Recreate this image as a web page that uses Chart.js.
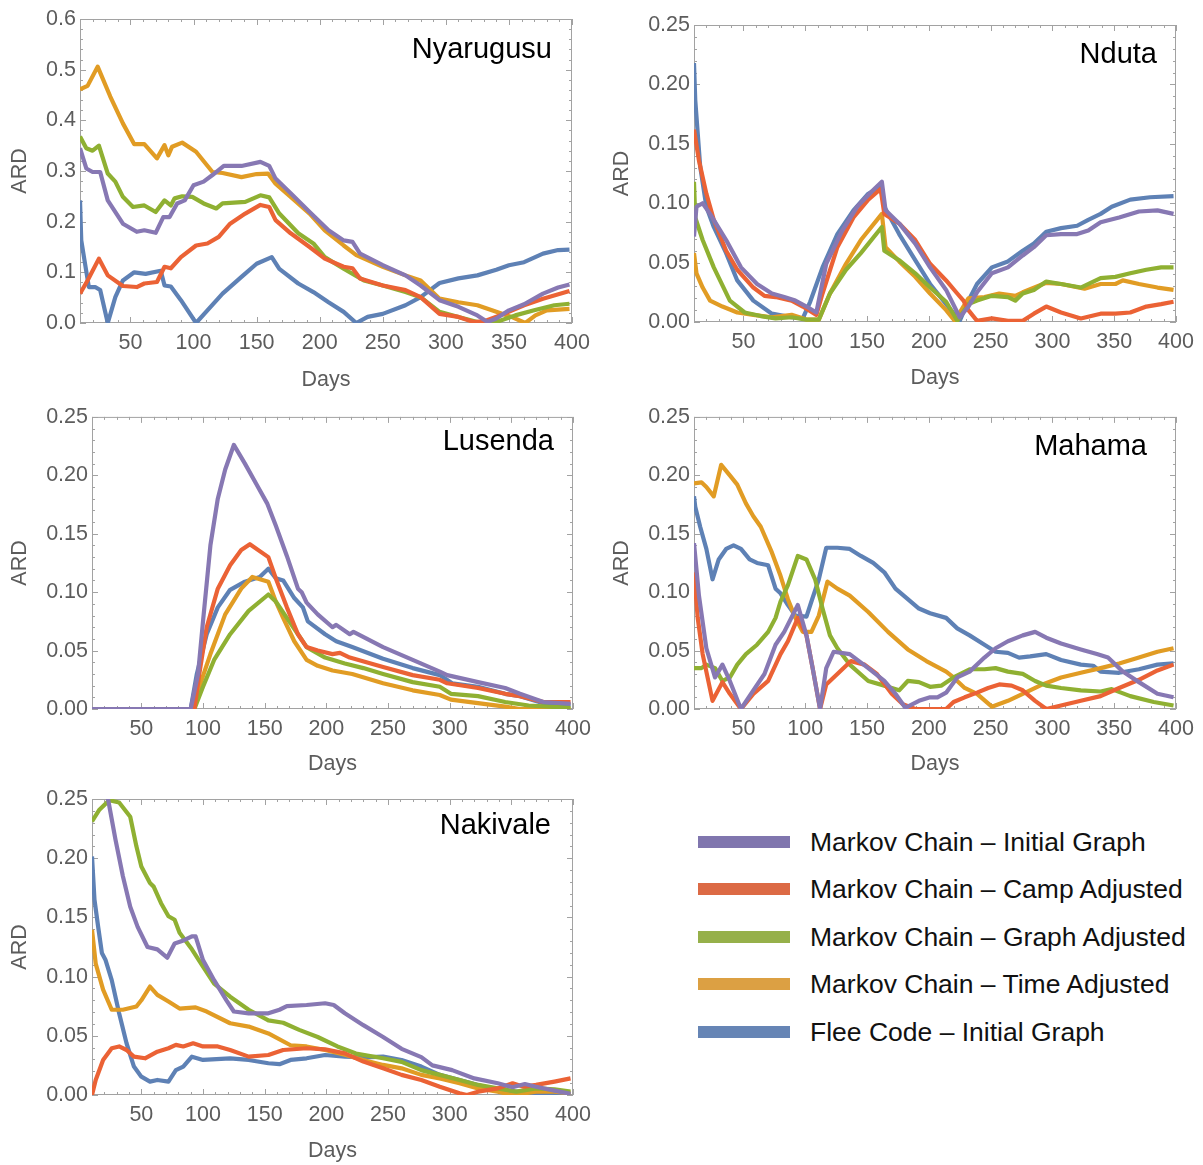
<!DOCTYPE html>
<html>
<head>
<meta charset="utf-8">
<script src="https://cdn.jsdelivr.net/npm/chart.js@4.4.1/dist/chart.umd.min.js"></script>
<style>
  html, body { margin: 0; padding: 0; background: #ffffff; }
  #page { position: relative; width: 1203px; height: 1165px; background: #ffffff; overflow: hidden; }
  .panel { position: absolute; }
  .swatch { position: absolute; left: 698px; width: 92px; height: 12px; }
  .ltext { position: absolute; left: 810px; white-space: nowrap; font-family: "Liberation Sans", Arial, sans-serif; font-size: 26.5px; line-height: 30px; color: #111; }
</style>
</head>
<body>
<div id="page"></div>
<script>
// ---------------- data ----------------
const seriesNames = [
  "Markov Chain \u2013 Initial Graph",
  "Markov Chain \u2013 Camp Adjusted",
  "Markov Chain \u2013 Graph Adjusted",
  "Markov Chain \u2013 Time Adjusted",
  "Flee Code \u2013 Initial Graph"
];
const campNames = ["Nyarugusu", "Nduta", "Lusenda", "Mahama", "Nakivale"];
const dayTicks = [50, 100, 150, 200, 250, 300, 350, 400];
const ardTicksWide = [0, 0.1, 0.2, 0.3, 0.4, 0.5, 0.6];
const ardTicksNarrow = [0, 0.05, 0.1, 0.15, 0.2, 0.25];

// Nyarugusu  [day, ARD]
const nyaInitial = [[10,0.345],[15,0.305],[20,0.298],[26,0.298],[32,0.242],[44,0.196],[55,0.18],[61,0.183],[70,0.178],[76,0.209],[81,0.209],[87,0.236],[93,0.242],[100,0.272],[108,0.279],[115,0.292],[124,0.31],[138,0.31],[153,0.318],[160,0.31],[165,0.285],[177,0.256],[192,0.219],[207,0.183],[219,0.163],[226,0.16],[232,0.137],[250,0.114],[268,0.094],[280,0.074],[295,0.045],[310,0.032],[325,0.015],[333,0.002],[340,0.009],[350,0.025],[362,0.037],[377,0.058],[389,0.07],[398,0.076]];
const nyaCamp = [[10,0.058],[16,0.084],[25,0.127],[32,0.094],[44,0.073],[55,0.071],[61,0.078],[71,0.081],[77,0.111],[82,0.108],[90,0.13],[102,0.153],[111,0.157],[120,0.17],[129,0.196],[141,0.216],[153,0.233],[160,0.229],[165,0.203],[177,0.177],[192,0.15],[204,0.127],[219,0.111],[226,0.108],[232,0.088],[250,0.074],[268,0.065],[280,0.051],[295,0.018],[310,0.012],[322,0.002],[331,0.004],[346,0.018],[362,0.035],[377,0.048],[398,0.063]];
const nyaGraph = [[10,0.368],[15,0.345],[20,0.34],[25,0.35],[32,0.295],[38,0.279],[44,0.249],[52,0.229],[61,0.232],[70,0.219],[77,0.242],[82,0.232],[85,0.246],[91,0.25],[99,0.249],[108,0.236],[118,0.226],[123,0.236],[141,0.239],[153,0.252],[160,0.248],[168,0.216],[183,0.177],[195,0.157],[204,0.13],[219,0.107],[235,0.084],[250,0.074],[268,0.061],[280,0.051],[295,0.022],[310,0.012],[325,0.002],[340,0.002],[355,0.015],[370,0.025],[386,0.035],[398,0.038]];
const nyaTime = [[10,0.461],[16,0.468],[24,0.506],[34,0.447],[44,0.394],[53,0.353],[61,0.353],[71,0.325],[77,0.351],[80,0.331],[83,0.348],[91,0.356],[102,0.338],[115,0.298],[123,0.296],[138,0.288],[150,0.294],[159,0.295],[165,0.275],[177,0.249],[192,0.216],[204,0.183],[219,0.153],[229,0.134],[250,0.111],[268,0.094],[280,0.084],[295,0.048],[310,0.041],[325,0.035],[340,0.022],[352,0.012],[363,0.0],[371,0.015],[380,0.025],[398,0.028]];
const nyaFlee = [[10,0.242],[11,0.163],[14,0.117],[17,0.071],[22,0.071],[26,0.065],[32,0.0],[38,0.051],[44,0.084],[53,0.1],[62,0.097],[74,0.103],[77,0.074],[82,0.072],[90,0.045],[102,0.0],[111,0.025],[123,0.058],[138,0.091],[150,0.117],[162,0.13],[168,0.107],[183,0.078],[195,0.061],[207,0.041],[219,0.022],[229,0.0],[238,0.012],[250,0.018],[268,0.035],[280,0.051],[295,0.079],[310,0.088],[325,0.094],[340,0.105],[350,0.114],[362,0.12],[377,0.137],[389,0.144],[398,0.145]];

// Nduta
const ndInitial = [[10,0.072],[12,0.097],[17,0.1],[23,0.091],[36,0.069],[48,0.046],[61,0.032],[73,0.024],[83,0.021],[92,0.018],[101,0.013],[109,0.008],[117,0.049],[130,0.077],[142,0.097],[154,0.11],[162,0.118],[165,0.094],[176,0.083],[189,0.066],[201,0.046],[214,0.027],[225,0.004],[232,0.013],[239,0.025],[251,0.041],[264,0.046],[276,0.056],[285,0.063],[295,0.073],[307,0.074],[320,0.074],[329,0.077],[339,0.084],[354,0.088],[370,0.093],[385,0.094],[398,0.091]];
const ndCamp = [[10,0.162],[14,0.136],[20,0.108],[26,0.086],[36,0.06],[45,0.044],[58,0.029],[67,0.022],[76,0.021],[89,0.018],[98,0.013],[109,0.006],[114,0.024],[126,0.063],[139,0.088],[151,0.103],[161,0.112],[164,0.091],[176,0.083],[189,0.069],[201,0.049],[214,0.035],[223,0.024],[228,0.018],[232,0.01],[239,0.001],[251,0.003],[264,0.001],[276,0.001],[285,0.007],[295,0.013],[307,0.008],[323,0.003],[339,0.007],[351,0.007],[363,0.008],[376,0.013],[388,0.015],[398,0.017]];
const ndGraph = [[10,0.118],[11,0.088],[17,0.069],[26,0.046],[39,0.018],[51,0.008],[64,0.005],[76,0.003],[89,0.004],[101,0.002],[111,0.002],[120,0.024],[133,0.044],[145,0.058],[162,0.08],[164,0.06],[176,0.052],[189,0.041],[201,0.029],[214,0.017],[223,0.001],[232,0.015],[239,0.018],[251,0.022],[264,0.021],[270,0.018],[276,0.024],[285,0.027],[295,0.034],[307,0.032],[323,0.029],[339,0.037],[351,0.038],[363,0.041],[376,0.044],[388,0.046],[398,0.046]];
const ndTime = [[10,0.058],[12,0.041],[17,0.029],[23,0.018],[33,0.013],[45,0.008],[58,0.006],[73,0.004],[89,0.006],[101,0.002],[111,0.002],[120,0.024],[133,0.049],[145,0.069],[162,0.091],[165,0.063],[176,0.051],[189,0.038],[201,0.024],[214,0.01],[221,0.001],[232,0.02],[245,0.021],[257,0.024],[270,0.022],[276,0.025],[295,0.033],[307,0.032],[326,0.028],[339,0.032],[351,0.032],[357,0.035],[370,0.032],[385,0.029],[398,0.027]];
const ndFlee = [[10,0.218],[11,0.187],[15,0.131],[20,0.097],[26,0.08],[36,0.058],[45,0.035],[58,0.018],[73,0.007],[89,0.004],[98,0.003],[104,0.017],[114,0.046],[126,0.074],[139,0.094],[151,0.108],[161,0.114],[164,0.097],[176,0.074],[189,0.052],[201,0.032],[214,0.015],[225,0.001],[232,0.018],[239,0.032],[251,0.046],[264,0.051],[276,0.06],[285,0.066],[295,0.076],[307,0.079],[320,0.081],[329,0.086],[339,0.091],[348,0.097],[363,0.103],[379,0.105],[398,0.106]];

// Lusenda
const luInitial = [[10,0],[90,0],[96,0.03],[100,0.075],[106,0.14],[112,0.18],[118,0.205],[125,0.226],[134,0.21],[143,0.193],[152,0.176],[159,0.157],[168,0.131],[177,0.103],[180,0.1],[184,0.091],[193,0.081],[205,0.07],[208,0.072],[219,0.064],[222,0.066],[246,0.053],[270,0.042],[292,0.032],[298,0.029],[323,0.023],[345,0.018],[357,0.013],[376,0.006],[398,0.0045]];
const luCamp = [[10,0],[93,0],[97,0.03],[103,0.07],[112,0.103],[122,0.123],[131,0.136],[138,0.141],[153,0.13],[159,0.112],[168,0.087],[177,0.064],[184,0.053],[193,0.05],[205,0.047],[211,0.048],[219,0.044],[246,0.036],[270,0.029],[292,0.025],[298,0.022],[323,0.018],[345,0.013],[357,0.011],[376,0.006],[398,0.006]];
const luGraph = [[10,0],[93,0],[100,0.019],[109,0.042],[122,0.064],[137,0.084],[153,0.098],[159,0.092],[168,0.078],[177,0.064],[184,0.053],[199,0.044],[215,0.039],[230,0.035],[246,0.03],[270,0.023],[292,0.019],[301,0.013],[323,0.011],[345,0.006],[364,0.003],[398,0.001]];
const luTime = [[10,0],[93,0],[97,0.019],[106,0.047],[118,0.081],[131,0.103],[140,0.113],[153,0.109],[159,0.092],[165,0.078],[174,0.058],[184,0.042],[193,0.037],[205,0.033],[221,0.03],[246,0.022],[270,0.016],[292,0.012],[301,0.008],[323,0.005],[345,0.002],[357,0],[398,0]];
const luFlee = [[10,0],[90,0],[95,0.03],[103,0.064],[112,0.087],[122,0.102],[134,0.109],[146,0.113],[153,0.12],[159,0.112],[165,0.11],[174,0.095],[181,0.087],[185,0.075],[199,0.064],[208,0.058],[221,0.053],[246,0.043],[270,0.035],[292,0.029],[302,0.022],[323,0.019],[345,0.013],[357,0.011],[376,0.005],[398,0.003]];

// Mahama
const maInitial = [[10,0.142],[14,0.097],[20,0.052],[27,0.027],[33,0.038],[39,0.024],[48,0.0],[58,0.016],[67,0.03],[76,0.055],[83,0.066],[94,0.089],[101,0.063],[106,0.035],[112,0],[117,0.035],[123,0.049],[136,0.047],[151,0.035],[164,0.024],[173,0.013],[181,0.001],[192,0.007],[201,0.01],[207,0.01],[214,0.014],[223,0.027],[233,0.032],[245,0.044],[254,0.052],[264,0.058],[276,0.063],[286,0.066],[295,0.061],[307,0.056],[323,0.051],[336,0.047],[345,0.044],[357,0.032],[370,0.023],[385,0.013],[398,0.01]];
const maCamp = [[10,0.117],[13,0.078],[17,0.047],[25,0.007],[33,0.023],[39,0.013],[48,0],[58,0.013],[70,0.024],[80,0.047],[86,0.058],[94,0.078],[101,0.063],[106,0.035],[112,0],[117,0.021],[126,0.03],[137,0.041],[148,0.038],[158,0.03],[170,0.013],[179,0.004],[189,0],[214,0],[220,0.006],[229,0.01],[239,0.014],[248,0.018],[257,0.021],[267,0.02],[276,0.016],[286,0.007],[295,0],[307,0.003],[323,0.007],[339,0.011],[354,0.018],[370,0.025],[385,0.033],[398,0.038]];
const maGraph = [[10,0.035],[16,0.035],[20,0.038],[27,0.035],[33,0.024],[39,0.027],[45,0.038],[52,0.047],[61,0.055],[70,0.066],[76,0.078],[80,0.092],[86,0.106],[94,0.131],[101,0.128],[108,0.111],[114,0.086],[120,0.063],[126,0.052],[136,0.038],[151,0.024],[164,0.02],[176,0.016],[183,0.024],[192,0.023],[201,0.019],[210,0.02],[220,0.027],[233,0.034],[245,0.034],[254,0.035],[264,0.032],[276,0.03],[286,0.024],[295,0.02],[307,0.018],[323,0.016],[339,0.015],[348,0.017],[363,0.011],[382,0.006],[398,0.003]];
const maTime = [[10,0.193],[16,0.194],[20,0.19],[26,0.182],[32,0.209],[39,0.2],[45,0.192],[52,0.176],[58,0.165],[64,0.156],[73,0.134],[80,0.114],[86,0.094],[92,0.078],[98,0.066],[105,0.066],[111,0.08],[118,0.109],[126,0.103],[136,0.097],[151,0.083],[167,0.066],[183,0.051],[198,0.041],[214,0.032],[220,0.027],[229,0.018],[239,0.013],[251,0.002],[264,0.007],[276,0.013],[292,0.021],[307,0.027],[323,0.031],[339,0.035],[354,0.039],[370,0.044],[385,0.049],[398,0.052]];
const maFlee = [[10,0.182],[11,0.173],[15,0.156],[20,0.137],[25,0.111],[30,0.128],[36,0.137],[42,0.14],[48,0.137],[55,0.128],[61,0.125],[70,0.123],[76,0.103],[80,0.099],[86,0.089],[92,0.08],[101,0.079],[105,0.092],[111,0.111],[117,0.138],[126,0.138],[136,0.137],[145,0.131],[155,0.125],[164,0.117],[173,0.103],[183,0.094],[192,0.086],[201,0.082],[214,0.078],[223,0.069],[233,0.063],[245,0.055],[254,0.049],[264,0.048],[273,0.044],[282,0.045],[295,0.047],[307,0.042],[323,0.038],[333,0.037],[339,0.032],[354,0.031],[370,0.034],[385,0.038],[398,0.039]];

// Nakivale
const naInitial = [[10,0.30],[23,0.25],[29,0.216],[35,0.185],[41,0.159],[47,0.142],[55,0.125],[63,0.123],[71,0.116],[77,0.128],[83,0.13],[91,0.134],[94,0.134],[100,0.114],[109,0.097],[119,0.08],[125,0.0705],[137,0.069],[153,0.069],[162,0.072],[168,0.075],[184,0.076],[199,0.0775],[206,0.076],[215,0.069],[230,0.059],[246,0.049],[261,0.039],[277,0.032],[286,0.025],[302,0.021],[320,0.014],[339,0.0099],[351,0.0065],[361,0.0093],[370,0.007],[385,0.0037],[398,0.001]];
const naCamp = [[10,0],[13,0.0127],[19,0.0296],[26,0.0395],[32,0.041],[38,0.038],[44,0.0324],[53,0.031],[63,0.0366],[72,0.0395],[78,0.0423],[84,0.041],[92,0.0437],[100,0.041],[112,0.041],[122,0.038],[137,0.0324],[153,0.0338],[165,0.038],[184,0.0395],[199,0.0386],[215,0.0352],[230,0.0282],[246,0.0225],[261,0.017],[277,0.0127],[292,0.007],[308,0.0014],[314,0],[323,0.0028],[339,0.0056],[351,0.0099],[360,0.007],[370,0.0085],[385,0.0113],[398,0.014]];
const naGraph = [[10,0.231],[16,0.241],[24,0.249],[32,0.247],[41,0.235],[46,0.21],[50,0.193],[57,0.179],[60,0.176],[66,0.162],[72,0.151],[77,0.148],[81,0.137],[91,0.123],[100,0.1085],[109,0.094],[122,0.083],[137,0.072],[153,0.063],[165,0.061],[178,0.055],[193,0.049],[209,0.041],[224,0.035],[246,0.031],[261,0.028],[277,0.021],[292,0.017],[308,0.0127],[323,0.0085],[339,0.0056],[354,0.0028],[370,0.0056],[385,0.0048],[398,0.0028]];
const naTime = [[10,0.1395],[13,0.111],[19,0.089],[26,0.072],[35,0.072],[46,0.0747],[50,0.08],[57,0.0916],[63,0.0846],[72,0.079],[81,0.073],[94,0.074],[103,0.0705],[122,0.0606],[137,0.0578],[153,0.052],[171,0.042],[184,0.041],[199,0.038],[215,0.034],[230,0.0296],[246,0.0254],[261,0.0225],[277,0.017],[292,0.014],[308,0.0099],[323,0.0056],[339,0.0028],[351,0],[370,0.0028],[385,0.0028],[398,0.0014]];
const naFlee = [[10,0.2015],[12,0.165],[15,0.142],[18,0.12],[21,0.114],[26,0.097],[32,0.069],[38,0.0437],[44,0.024],[50,0.0155],[57,0.0113],[63,0.0127],[72,0.0113],[78,0.021],[84,0.024],[91,0.0324],[100,0.0296],[122,0.031],[137,0.0296],[153,0.0268],[162,0.026],[171,0.0296],[184,0.031],[199,0.0338],[215,0.0324],[230,0.0318],[246,0.0324],[261,0.0296],[277,0.024],[292,0.017],[308,0.0127],[323,0.0085],[339,0.0042],[354,0.0028],[370,0.0014],[385,0],[398,0]];

// ---------------- styling ----------------
const lineColors = ["#8778B3", "#EB6235", "#8FB032", "#E19C24", "#5E81B5"];
const swatchColors = ["#8076AE", "#DC6A45", "#96B04A", "#DCA043", "#6685B5"];
const FONT = '"Liberation Sans", Arial, Helvetica, sans-serif';
const GRAY_TEXT = "#5c5c5c";
const FRAME = "#a2a2a2";
const TICK_SIZE = 21.5;

const panels = [
  { name: campNames[0], series: [nyaInitial, nyaCamp, nyaGraph, nyaTime, nyaFlee], yTicks: ardTicksWide, dec: 1,
    box: [0, 0, 600, 400], yW: 80, top: 19, right: 28, xH: 77, ardPad: 7, daysPad: 7, titleX: 552, titleY: 58 },
  { name: campNames[1], series: [ndInitial, ndCamp, ndGraph, ndTime, ndFlee], yTicks: ardTicksNarrow, dec: 2,
    box: [600, 0, 603, 400], yW: 94, top: 25, right: 27, xH: 78, ardPad: 9, daysPad: 9, titleX: 557, titleY: 63 },
  { name: campNames[2], series: [luInitial, luCamp, luGraph, luTime, luFlee], yTicks: ardTicksNarrow, dec: 2,
    box: [0, 400, 600, 380], yW: 92, top: 13, right: 27, xH: 71, ardPad: 7, daysPad: 2.6, titleX: 554, titleY: 50 },
  { name: campNames[3], series: [maInitial, maCamp, maGraph, maTime, maFlee], yTicks: ardTicksNarrow, dec: 2,
    box: [600, 400, 603, 380], yW: 94, top: 13, right: 27, xH: 71, ardPad: 9, daysPad: 2.6, titleX: 547, titleY: 55 },
  { name: campNames[4], series: [naInitial, naCamp, naGraph, naTime, naFlee], yTicks: ardTicksNarrow, dec: 2,
    box: [0, 780, 600, 385], yW: 92, top: 19, right: 27, xH: 70, ardPad: 7, daysPad: 1.1, titleX: 551, titleY: 54 }
];

// Frame with inward ticks on all four sides, drawn under the curves
const framePlugin = {
  id: 'mmaFrame',
  beforeDatasetsDraw(chart, args, opts) {
    const { ctx, chartArea: a, scales: { x, y } } = chart;
    ctx.save();
    ctx.strokeStyle = FRAME;
    ctx.lineWidth = 1;
    ctx.strokeRect(a.left + 0.5, a.top + 0.5, a.right - a.left - 1, a.bottom - a.top - 1);
    ctx.beginPath();
    for (let d = 10; d <= 400; d += 10) {
      const px = Math.round(x.getPixelForValue(d)) + 0.5;
      const len = d % 50 === 0 ? 6 : 3;
      ctx.moveTo(px, a.bottom); ctx.lineTo(px, a.bottom - len);
      ctx.moveTo(px, a.top); ctx.lineTo(px, a.top + len);
    }
    const ticks = opts.yTicks;
    const major = ticks[1] - ticks[0];
    const minor = major / 5;
    const yMax = ticks[ticks.length - 1];
    const n = Math.round(yMax / minor);
    for (let i = 0; i <= n; i++) {
      const py = Math.round(y.getPixelForValue(i * minor)) + 0.5;
      const len = i % 5 === 0 ? 6 : 3;
      ctx.moveTo(a.left, py); ctx.lineTo(a.left + len, py);
      ctx.moveTo(a.right, py); ctx.lineTo(a.right - len, py);
    }
    ctx.stroke();
    ctx.restore();
  },
  afterDraw(chart, args, opts) {
    const { ctx } = chart;
    ctx.save();
    ctx.fillStyle = "#000";
    ctx.font = '29px ' + FONT;
    ctx.textAlign = 'right';
    ctx.textBaseline = 'alphabetic';
    ctx.fillText(opts.title, opts.titleX, opts.titleY);
    ctx.restore();
  }
};

const page = document.getElementById('page');

panels.forEach((p) => {
  const [L, T, W, H] = p.box;
  const div = document.createElement('div');
  div.className = 'panel';
  div.style.left = L + 'px'; div.style.top = T + 'px';
  div.style.width = W + 'px'; div.style.height = H + 'px';
  const cv = document.createElement('canvas');
  cv.width = W; cv.height = H;
  cv.style.width = W + 'px'; cv.style.height = H + 'px';
  div.appendChild(cv);
  page.appendChild(div);

  const datasets = p.series.map((s, i) => ({
    label: seriesNames[i],
    data: s,
    borderColor: lineColors[i],
    backgroundColor: lineColors[i],
    borderWidth: 4.2,
    pointRadius: 0,
    tension: 0,
    fill: false,
    clip: 0,
    borderJoinStyle: 'round',
    borderCapStyle: 'butt'
  }));

  new Chart(cv, {
    type: 'line',
    data: { datasets },
    options: {
      responsive: false,
      animation: false,
      devicePixelRatio: 1,
      layout: { padding: { left: 0, top: p.top, right: p.right, bottom: 0 } },
      plugins: {
        legend: { display: false },
        tooltip: { enabled: false },
        mmaFrame: { yTicks: p.yTicks, title: p.name, titleX: p.titleX, titleY: p.titleY }
      },
      scales: {
        x: {
          type: 'linear', min: 10, max: 400,
          afterBuildTicks: s => { s.ticks = dayTicks.map(v => ({ value: v })); },
          afterFit: s => { s.height = p.xH; },
          grid: { display: false, drawTicks: false },
          border: { display: false },
          ticks: { autoSkip: false, maxRotation: 0, padding: 7, color: GRAY_TEXT,
                   font: { family: FONT, size: TICK_SIZE }, callback: v => String(v) },
          title: { display: true, text: 'Days', color: GRAY_TEXT, font: { family: FONT, size: TICK_SIZE },
                   padding: { top: 0, bottom: p.daysPad } }
        },
        y: {
          type: 'linear', min: 0, max: p.yTicks[p.yTicks.length - 1],
          afterBuildTicks: s => { s.ticks = p.yTicks.map(v => ({ value: v })); },
          afterFit: s => { s.width = p.yW; },
          grid: { display: false, drawTicks: false },
          border: { display: false },
          ticks: { autoSkip: false, padding: 4, color: GRAY_TEXT,
                   font: { family: FONT, size: TICK_SIZE }, callback: v => Number(v).toFixed(p.dec) },
          title: { display: true, text: 'ARD', color: GRAY_TEXT, font: { family: FONT, size: TICK_SIZE },
                   padding: { top: p.ardPad, bottom: 0 } }
        }
      }
    },
    plugins: [framePlugin]
  });
});

// HTML legend
const legendCenters = [841.5, 888.5, 936.5, 984, 1031.5];
seriesNames.forEach((name, i) => {
  const sw = document.createElement('div');
  sw.className = 'swatch';
  sw.style.top = (legendCenters[i] - 6) + 'px';
  sw.style.background = swatchColors[i];
  page.appendChild(sw);
  const tx = document.createElement('div');
  tx.className = 'ltext';
  tx.style.top = (legendCenters[i] - 15) + 'px';
  tx.textContent = name;
  page.appendChild(tx);
});
</script>
</body>
</html>
